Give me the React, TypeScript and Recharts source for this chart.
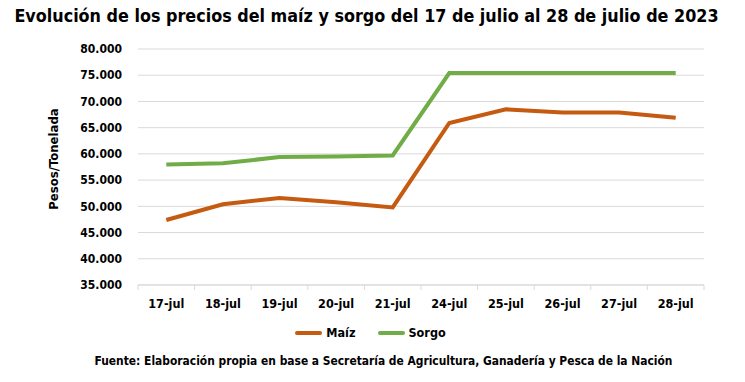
import { LineChart, Line, XAxis, YAxis, CartesianGrid } from "recharts";

const fechas = ["17-jul", "18-jul", "19-jul", "20-jul", "21-jul", "24-jul", "25-jul", "26-jul", "27-jul", "28-jul"];
const maiz = [47400, 50400, 51600, 50800, 49800, 65900, 68500, 67900, 67900, 66900];
const sorgo = [58000, 58200, 59400, 59500, 59700, 75400, 75400, 75400, 75400, 75400];
const yTicks = [35000, 40000, 45000, 50000, 55000, 60000, 65000, 70000, 75000, 80000];

const data = fechas.map((f, i) => ({ fecha: f, maiz: maiz[i], sorgo: sorgo[i] }));

const FONT = "'DejaVu Sans Condensed', 'Roboto', sans-serif";
const W = 745;
const H = 382;
const X_H = 30;
const Y_W = 78;
const M = { top: 49, right: 41, bottom: 382 - 285 - X_H, left: 60 };
const band = (W - M.left - M.right - Y_W) / fechas.length;

const fmtMiles = (v: number) => `${Math.round(v / 1000)}.000`;

function XTick(props: any) {
  const { x, y, payload, index } = props;
  return (
    <g>
      <line x1={x - band / 2} x2={x - band / 2} y1={y - 8} y2={y - 3} stroke="#d9d9d9" />
      {index === fechas.length - 1 && (
        <line x1={x + band / 2} x2={x + band / 2} y1={y - 8} y2={y - 3} stroke="#d9d9d9" />
      )}
      <text x={x} y={y + 15} textAnchor="middle" fill="#000" fontSize={12.5} fontWeight={700} fontFamily={FONT}>
        {payload.value}
      </text>
    </g>
  );
}

// "Pesos/Tonelada" centrado un poco más arriba que el área de trazado
function YLabel() {
  return (
    <text
      x={53}
      y={159}
      transform="rotate(-90 53 159)"
      textAnchor="middle"
      dominantBaseline="central"
      fill="#000"
      fontSize={13}
      fontWeight={700}
      fontFamily={FONT}
    >
      Pesos/Tonelada
    </text>
  );
}

const series = [
  { label: "Maíz", color: "#c55a11" },
  { label: "Sorgo", color: "#70ad47" },
];

export default function App() {
  return (
    <div style={{ position: "absolute", left: 0, top: 0, width: W, height: H, background: "#fff", fontFamily: FONT }}>
      <div style={{ position: "absolute", left: -6, top: 5, width: W, textAlign: "center", fontSize: 17.8, fontWeight: 700, color: "#000", whiteSpace: "nowrap" }}>
        Evolución de los precios del maíz y sorgo del 17 de julio al 28 de julio de 2023
      </div>
      <LineChart width={W} height={H} data={data} margin={M}>
        <CartesianGrid stroke="#d9d9d9" vertical={false} />
        <XAxis
          dataKey="fecha"
          height={X_H}
          stroke="#d9d9d9"
          tickLine={false}
          tick={<XTick />}
          interval={0}
          padding={{ left: band / 2, right: band / 2 }}
        />
        <YAxis
          width={Y_W}
          domain={[35000, 80000]}
          ticks={yTicks}
          interval={0}
          axisLine={false}
          tickLine={false}
          tickMargin={10}
          tickFormatter={fmtMiles}
          tick={{ fill: "#000", fontSize: 12, fontWeight: 700, fontFamily: FONT }}
          label={{ content: <YLabel /> }}
        />
        <Line dataKey="maiz" name="Maíz" stroke="#c55a11" strokeWidth={4} dot={false} isAnimationActive={false} />
        <Line dataKey="sorgo" name="Sorgo" stroke="#70ad47" strokeWidth={4} dot={false} isAnimationActive={false} />
      </LineChart>
      <div style={{ position: "absolute", left: -2, top: 325, width: W, display: "flex", justifyContent: "center", gap: 22, fontSize: 12.5, fontWeight: 700 }}>
        {series.map((it) => (
          <div key={it.label} style={{ display: "flex", alignItems: "center" }}>
            <span style={{ display: "inline-block", width: 27, height: 4, borderRadius: 2, background: it.color, marginRight: 4 }} />
            <span>{it.label}</span>
          </div>
        ))}
      </div>
      <div style={{ position: "absolute", left: 11, top: 354, width: W, textAlign: "center", fontSize: 11.9, fontWeight: 700, color: "#000", whiteSpace: "nowrap" }}>
        Fuente: Elaboración propia en base a Secretaría de Agricultura, Ganadería y Pesca de la Nación
      </div>
    </div>
  );
}
